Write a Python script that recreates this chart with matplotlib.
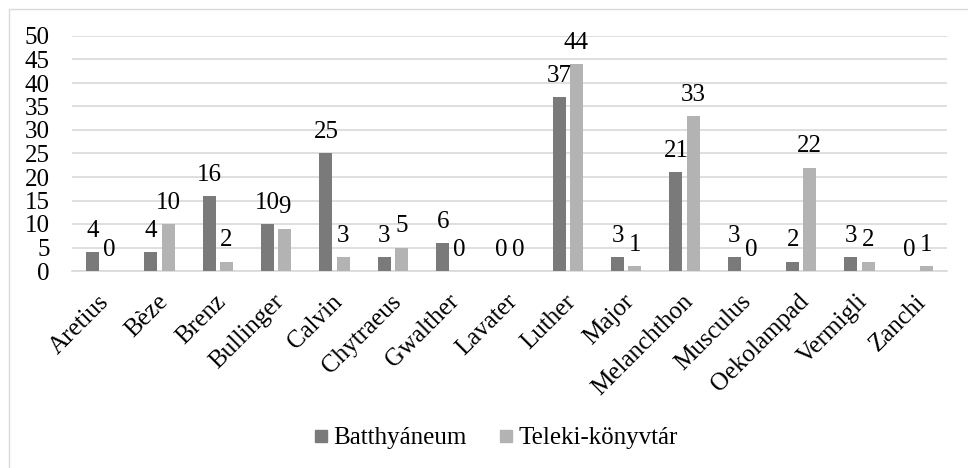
import matplotlib
matplotlib.use("Agg")
import matplotlib.pyplot as plt
import matplotlib.transforms as mtransforms
import numpy as np
from matplotlib.patches import Rectangle
from matplotlib.lines import Line2D

categories = ["Aretius", "Bèze", "Brenz", "Bullinger", "Calvin", "Chytraeus", "Gwalther",
              "Lavater", "Luther", "Major", "Melanchthon", "Musculus", "Oekolampad",
              "Vermigli", "Zanchi"]
batthyaneum = [4, 4, 16, 10, 25, 3, 6, 0, 37, 3, 21, 3, 2, 3, 0]
teleki = [0, 10, 2, 9, 3, 5, 0, 0, 44, 1, 33, 0, 22, 2, 1]
series_names = ["Batthyáneum", "Teleki-könyvtár"]
yticks = [0, 5, 10, 15, 20, 25, 30, 35, 40, 45, 50]

plt.rcParams['font.family'] = ['Liberation Serif', 'DejaVu Serif']

dark = "#7a7a7a"
light = "#b3b3b3"
fs = 18

fig = plt.figure(figsize=(9.68, 4.68), dpi=100)
ax = fig.add_axes([72/968, 1-271/468, (947-72)/968, (271-36)/468])

x = np.arange(len(categories))
w = 0.223
off = 0.146
b1 = ax.bar(x - off, batthyaneum, width=w, color=dark, zorder=3)
b2 = ax.bar(x + off, teleki, width=w, color=light, zorder=3)

for bars, vals in ((b1, batthyaneum), (b2, teleki)):
    for r, v in zip(bars, vals):
        ax.annotate(str(v), (r.get_x() + r.get_width()/2, v), xytext=(0, 11),
                    textcoords="offset points", ha="center", va="baseline",
                    fontsize=fs, color="#000000")

ax.set_xlim(-0.5, len(categories) - 0.5)
ax.set_ylim(0, 50)
ax.set_yticks(yticks)
ax.set_yticklabels([str(t) for t in yticks], fontsize=fs)
ax.yaxis.grid(True, color="#d9d9d9", linewidth=1.2, zorder=0)
ax.set_axisbelow(True)
ax.set_xticks(x)
ax.set_xticklabels(categories, rotation=45, ha="right", rotation_mode="anchor", fontsize=fs)
ax.tick_params(axis="both", length=0)
ax.tick_params(axis="y", pad=16)
ax.tick_params(axis="x", pad=14)
shift = mtransforms.ScaledTranslation(-3/100, 0, fig.dpi_scale_trans)
for lab in ax.get_xticklabels():
    lab.set_transform(lab.get_transform() + shift)
for s in ("top", "right", "left"):
    ax.spines[s].set_visible(False)
ax.spines["bottom"].set_color("#d9d9d9")
ax.spines["bottom"].set_linewidth(1.2)

handles = [Line2D([0], [0], marker="s", color="none", markerfacecolor=dark, markeredgecolor=dark, markersize=8.5),
           Line2D([0], [0], marker="s", color="none", markerfacecolor=light, markeredgecolor=light, markersize=8.5)]
fig.legend(handles, series_names, loc="center", bbox_to_anchor=(495/968, 1-438/468), ncol=2,
           frameon=False, fontsize=fs, handletextpad=0.15, columnspacing=1.2, handlelength=0.7)

fig.patches.append(Rectangle((9/968, -0.1), 1.2, 1 - 9/468 + 0.1, transform=fig.transFigure,
                             fill=False, edgecolor="#d9d9d9", linewidth=1.0))

fig.savefig("out.png", dpi=100)
